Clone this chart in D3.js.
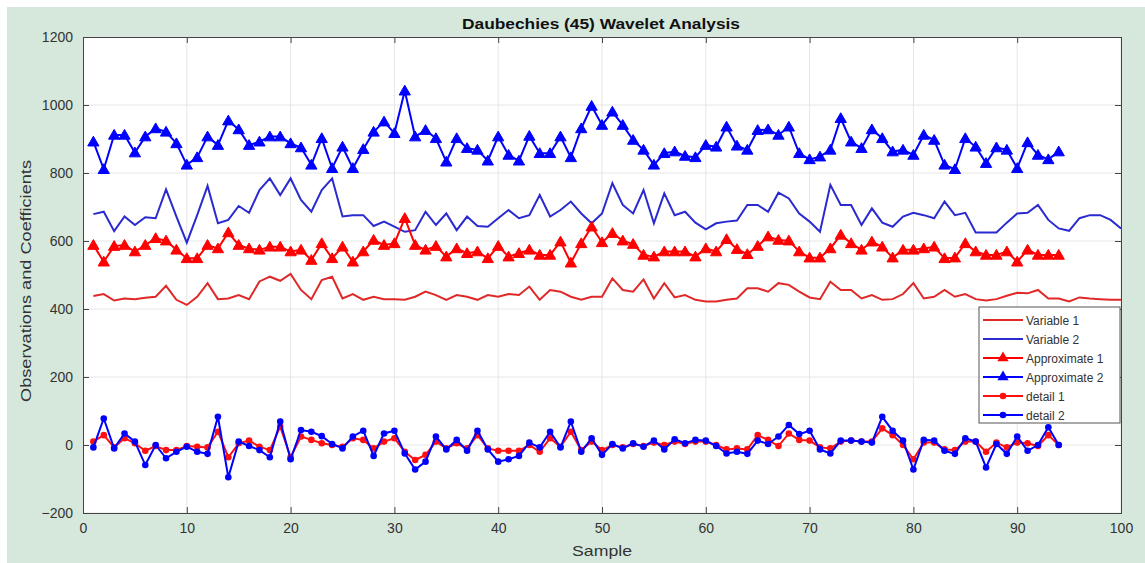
<!DOCTYPE html>
<html><head><meta charset="utf-8">
<script src="https://cdn.jsdelivr.net/npm/d3@7"></script>
<style>html,body{margin:0;padding:0;background:#fff;}svg{display:block;}</style>
</head><body>
<script>
const title = "Daubechies (45) Wavelet Analysis";
const xLabel = "Sample";
const yLabel = "Observations and Coefficients";
const xTicks = [0,10,20,30,40,50,60,70,80,90,100];
const yTicks = [-200,0,200,400,600,800,1000,1200];
const legendLabels = ["Variable 1","Variable 2","Approximate 1","Approximate 2","detail 1","detail 2"];

const variable1 = [438,444,425,431,429,433,436,468,427,412,436,476,429,431,441,429,481,495,483,503,456,429,485,495,431,
 444,427,436,429,429,427,436,451,441,427,441,436,427,441,436,444,441,466,427,456,451,436,427,436,436,
 490,456,451,487,431,476,434,441,427,422,422,427,431,461,461,451,476,471,451,434,429,480,456,456,431,
 441,427,429,444,476,431,436,456,436,444,429,425,429,439,448,446,456,431,431,422,434,431,429,427,427];
const variable2 = [679,686,629,672,647,670,667,752,672,595,676,762,652,662,703,683,750,784,735,784,721,686,750,784,672,
 676,676,644,657,642,627,632,686,647,681,632,672,644,642,667,691,667,676,735,672,691,716,681,652,681,
 770,706,681,750,652,740,676,686,654,634,652,657,660,706,706,686,742,725,681,657,627,765,706,706,647,
 696,654,642,672,683,676,667,716,676,683,625,625,625,654,681,683,706,662,637,630,667,676,676,662,637];
const approx1 = [588,539,585,588,569,588,608,601,574,549,549,588,578,625,588,578,574,583,583,569,574,544,593,549,583,
 539,569,603,588,593,667,588,574,585,554,578,564,569,549,585,554,564,574,559,559,598,536,593,642,596,
 623,601,591,559,554,569,569,569,554,578,569,605,576,561,585,613,603,601,569,551,551,578,618,593,574,
 598,583,551,574,574,578,583,549,551,593,569,559,559,569,539,574,559,559,559];
const approx2 = [892,811,912,912,860,907,931,921,887,824,846,907,882,954,928,882,892,907,907,887,875,824,902,814,877,
 814,870,921,951,917,1042,907,926,902,833,902,873,868,836,907,853,836,909,858,858,907,846,931,997,941,
 980,941,897,868,824,858,863,850,846,882,877,936,880,868,926,928,912,936,858,840,848,868,961,892,873,
 928,902,863,868,853,912,897,824,811,902,877,829,875,868,814,890,853,840,863];
const detail1 = [10,29,-7,20,5,-17,-3,-15,-15,-3,-5,-7,39,-36,5,13,-5,-15,54,-36,25,15,5,0,-5,
 20,15,-10,10,20,-20,-44,-29,10,-10,5,-10,29,-10,-17,-17,-17,0,-20,20,-5,39,-15,10,-15,
 0,-7,3,-3,7,0,10,3,10,10,0,-13,-10,-13,29,15,-3,34,15,13,-7,-10,10,13,10,
 10,49,29,0,-42,7,7,-13,-15,10,10,-20,7,-7,7,5,-3,29,0];
const detail2 = [-7,78,-10,34,10,-59,0,-39,-20,-5,-20,-26,83,-95,10,-3,-15,-36,69,-42,44,39,26,3,-10,
 25,42,-32,34,42,-25,-72,-49,25,-13,15,-17,42,-13,-49,-42,-32,7,-7,39,-7,69,-20,20,-29,
 3,-10,5,-5,13,-13,17,5,15,13,-3,-25,-20,-26,13,3,25,59,32,42,-13,-25,13,13,10,
 7,83,42,13,-72,15,13,-17,-26,20,10,-66,3,-26,25,-17,0,52,0];

const W = 1145, H = 563;
const M = {left:83, right:1121, top:37, bottom:513};
const FONT = "Arial, 'Liberation Sans', sans-serif";
const svg = d3.select("body").append("svg").attr("width",W).attr("height",H).style("font-family",FONT);
svg.append("rect").attr("x",7).attr("y",7).attr("width",W-7).attr("height",H-7).attr("fill","#d6e8dc");
svg.append("rect").attr("x",M.left).attr("y",M.top).attr("width",M.right-M.left).attr("height",M.bottom-M.top).attr("fill","#fff");

const x = d3.scaleLinear().domain([0,100]).range([M.left,M.right]);
const y = d3.scaleLinear().domain([-200,1200]).range([M.bottom,M.top]);

// grid
const g = svg.append("g");
g.selectAll(".vx").data(xTicks).join("line").attr("x1",d=>x(d)).attr("x2",d=>x(d))
  .attr("y1",M.top).attr("y2",M.bottom).attr("stroke","#e6e6e6").attr("stroke-width",1);
g.selectAll(".hy").data(yTicks).join("line").attr("y1",d=>y(d)).attr("y2",d=>y(d))
  .attr("x1",M.left).attr("x2",M.right).attr("stroke","#e6e6e6").attr("stroke-width",1);

// axes
const fmt = d3.format("d");
const xAxis = d3.axisBottom(x).tickValues(xTicks).tickFormat(fmt).tickSize(-6).tickPadding(10);
const yAxis = d3.axisLeft(y).tickValues(yTicks).tickFormat(fmt).tickSize(-6).tickPadding(10);
const xa = svg.append("g").attr("transform",`translate(0,${M.bottom})`).call(xAxis);
const ya = svg.append("g").attr("transform",`translate(${M.left},0)`).call(yAxis);
[xa,ya].forEach(a=>{
  a.selectAll("path,line").attr("stroke","#444");
  a.selectAll("text").attr("fill","#333").attr("font-size","14px").attr("font-family",FONT);
});
svg.append("g").attr("transform",`translate(0,${M.top})`).call(d3.axisTop(x).tickValues(xTicks).tickSize(-6).tickFormat(""))
  .selectAll("path,line").attr("stroke","#444");
svg.append("g").attr("transform",`translate(${M.right},0)`).call(d3.axisRight(y).tickValues(yTicks).tickSize(-6).tickFormat(""))
  .selectAll("path,line").attr("stroke","#444");

const idx = arr => arr.map((v,i)=>({s:i+1,v}));
const line = d3.line().x(d=>x(d.s)).y(d=>y(d.v));
const tri = d3.symbol().type(d3.symbolTriangle).size(55);

const series = [
  {data:variable1,color:"#e02828",marker:null},
  {data:variable2,color:"#2a2ad0",marker:null},
  {data:approx1,color:"#ff0000",marker:"tri"},
  {data:approx2,color:"#0000ff",marker:"tri"},
  {data:detail1,color:"#ff1010",marker:"dot"},
  {data:detail2,color:"#0000ff",marker:"dot"}
];
const plot = svg.append("g");
series.forEach(s=>{
  const d = idx(s.data);
  plot.append("path").datum(d).attr("d",line).attr("fill","none").attr("stroke",s.color).attr("stroke-width",2);
  if(s.marker==="tri"){
    plot.selectAll(null).data(d).join("path").attr("d",tri)
      .attr("transform",p=>`translate(${x(p.s)},${y(p.v)+1})`).attr("fill",s.color).attr("stroke",s.color);
  } else if(s.marker==="dot"){
    plot.selectAll(null).data(d).join("circle").attr("cx",p=>x(p.s)).attr("cy",p=>y(p.v)).attr("r",3.3).attr("fill",s.color);
  }
});

// title and labels
svg.append("text").attr("x",601).attr("y",29).attr("text-anchor","middle")
  .attr("font-size","15px").attr("font-weight","bold").attr("fill","#111")
  .attr("textLength",278).attr("lengthAdjust","spacingAndGlyphs").text(title);
svg.append("text").attr("x",602).attr("y",556).attr("text-anchor","middle")
  .attr("font-size","15px").attr("fill","#333")
  .attr("textLength",60).attr("lengthAdjust","spacingAndGlyphs").text(xLabel);
svg.append("text").attr("transform",`translate(31,281) rotate(-90)`).attr("text-anchor","middle")
  .attr("font-size","15px").attr("fill","#333")
  .attr("textLength",242).attr("lengthAdjust","spacingAndGlyphs").text(yLabel);

// legend
const lg = svg.append("g");
lg.append("rect").attr("x",979).attr("y",307).attr("width",141).attr("height",116)
  .attr("fill","#fff").attr("stroke","#555").attr("stroke-width",1);
legendLabels.forEach((lab,i)=>{
  const yy = 320 + i*19;
  const s = series[i];
  lg.append("line").attr("x1",983).attr("x2",1023).attr("y1",yy).attr("y2",yy).attr("stroke",s.color).attr("stroke-width",2);
  if(s.marker==="tri") lg.append("path").attr("d",tri).attr("transform",`translate(1003,${yy})`).attr("fill",s.color);
  if(s.marker==="dot") lg.append("circle").attr("cx",1003).attr("cy",yy).attr("r",3.3).attr("fill",s.color);
  lg.append("text").attr("x",1026).attr("y",yy+4.5).attr("font-size","12px").attr("fill","#333").text(lab);
});
</script>
</body></html>
